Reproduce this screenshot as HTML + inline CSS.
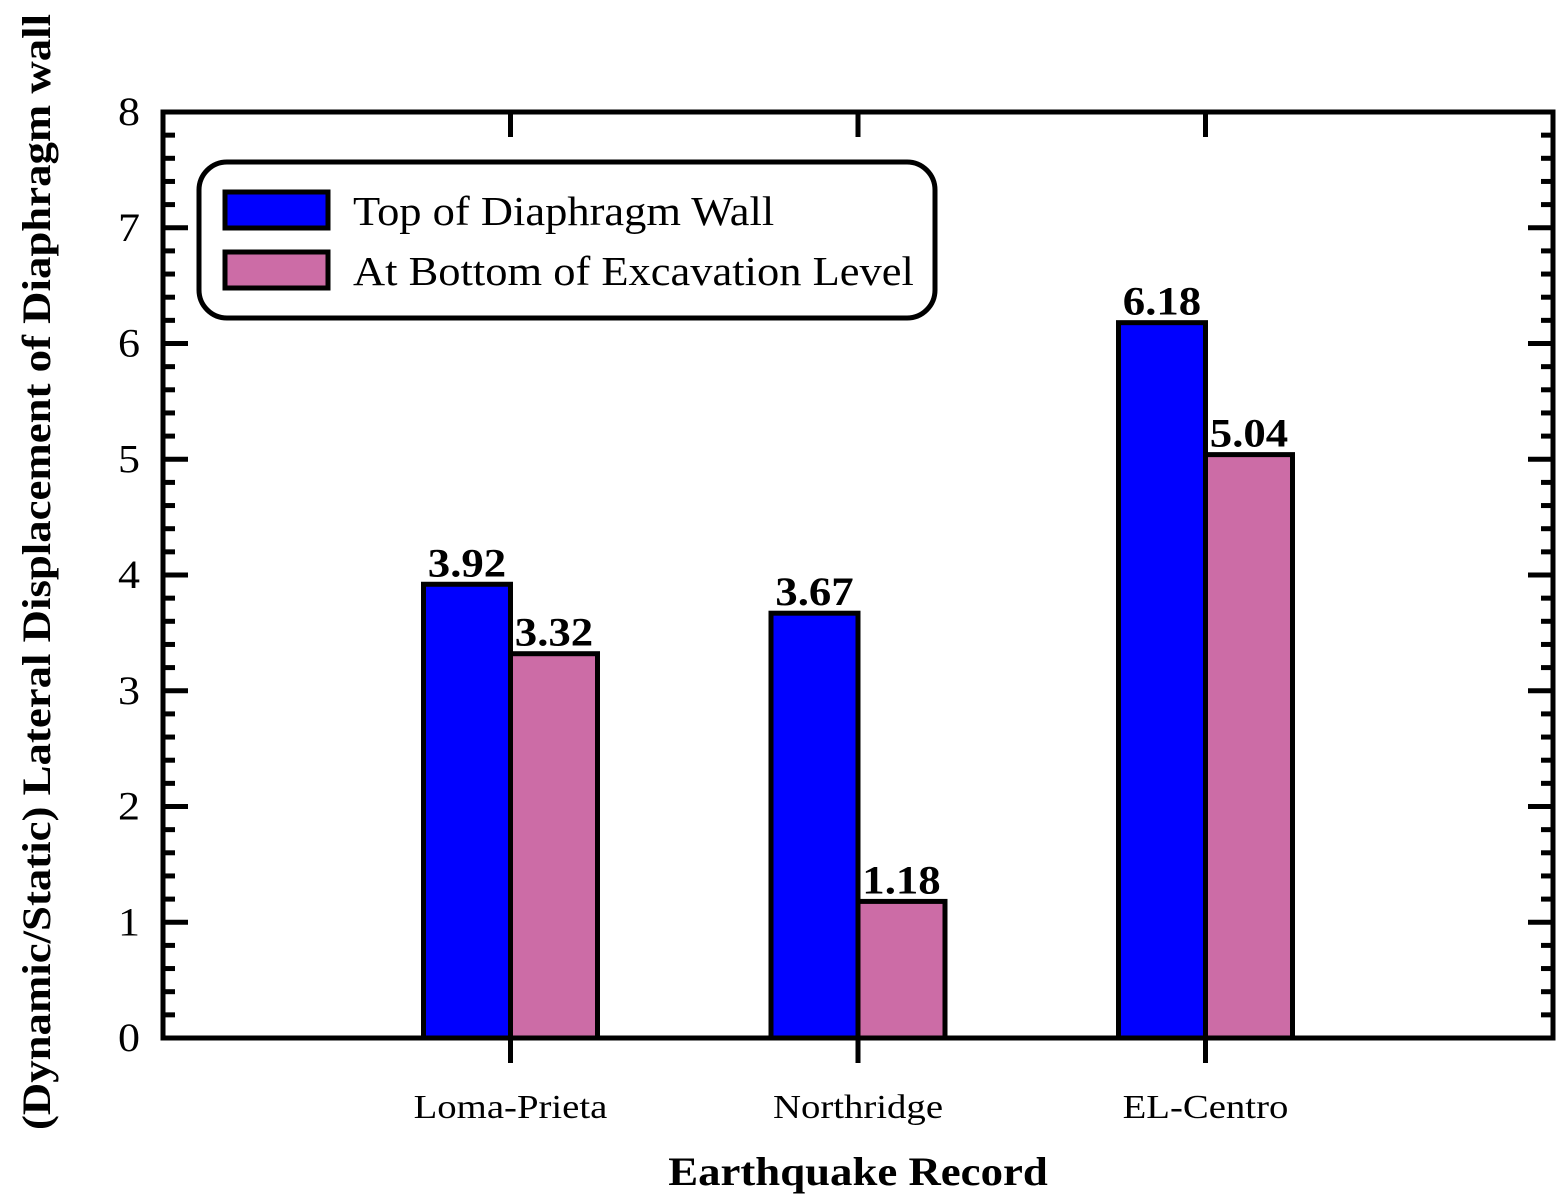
<!DOCTYPE html>
<html><head><meta charset="utf-8"><style>
body{margin:0;background:#fff}
svg{display:block;font-family:"Liberation Serif",serif}
</style></head><body>
<svg id="chart" width="1568" height="1201" viewBox="0 0 1568 1201"></svg>
<script>
const categories=["Loma-Prieta","Northridge","EL-Centro"];
const topValues=[3.92,3.67,6.18];
const bottomValues=[3.32,1.18,5.04];
const yTicks=[0,1,2,3,4,5,6,7,8];
const seriesNames=["Top of Diaphragm Wall","At Bottom of Excavation Level"];
const colors=["#0000ff","#cc6ca6"];

const L=163,R=1553,T=112,B=1038;
const y=v=>B-(v/8)*(B-T);
const x=i=>L+(i+1)*(R-L)/4;
const bw=87;
const svg=document.getElementById('chart');
const NS="http://www.w3.org/2000/svg";
function mk(tag,attrs,parent){const e=document.createElementNS(NS,tag);for(const k in attrs)e.setAttribute(k,attrs[k]);(parent||svg).appendChild(e);return e;}
function stretch(t,f){const w=t.getComputedTextLength();t.setAttribute('textLength',w*f);t.setAttribute('lengthAdjust','spacingAndGlyphs');}

for(let i=0;i<=40;i++){
  const v=i*0.2, yy=y(v), major=i%5===0, len=major?25:12;
  const t1=mk('line',{x1:L,x2:L+len,y1:yy,y2:yy,stroke:'#000','stroke-width':5});
  
  
  const t2=mk('line',{x1:R-len,x2:R,y1:yy,y2:yy,stroke:'#000','stroke-width':5});
  
  
}
yTicks.forEach(v=>{
  const t=mk('text',{x:140,y:y(v)+13,'text-anchor':'end','font-size':40});
  t.textContent=v;
  
  
  stretch(t,1.1);
});

categories.forEach((c,i)=>{
  const cx=x(i);
  [topValues[i],bottomValues[i]].forEach((v,s)=>{
    const bx=s===0?cx-bw:cx;
    const r=mk('rect',{x:bx,y:y(v),width:bw,height:B-y(v),fill:colors[s],stroke:'#000','stroke-width':5});
    
    
    const lb=mk('text',{x:bx+bw/2,y:y(v)-8,'text-anchor':'middle','font-size':40,'font-weight':'bold'});
    lb.textContent=v.toFixed(2);
    
    
    stretch(lb,1.12);
  });
  const tt=mk('line',{x1:cx,x2:cx,y1:T,y2:T+25,stroke:'#000','stroke-width':5});
  
  
  const tb=mk('line',{x1:cx,x2:cx,y1:B,y2:B+25,stroke:'#000','stroke-width':5});
  
  
  const cl=mk('text',{x:cx,y:1118,'text-anchor':'middle','font-size':34});
  cl.textContent=c;
  
  
  stretch(cl,1.14);
});

const fr=mk('rect',{x:L,y:T,width:R-L,height:B-T,fill:'none',stroke:'#000','stroke-width':5});



const lg=mk('g',{});


mk('rect',{x:199,y:162,width:736,height:156,rx:28,fill:'#fff',stroke:'#000','stroke-width':5},lg);
seriesNames.forEach((n,s)=>{
  const yy=192+s*60;
  const sw=mk('rect',{x:225,y:yy,width:103,height:36,fill:colors[s],stroke:'#000','stroke-width':5},lg);
  
  
  const t=mk('text',{x:353,y:yy+33,'font-size':41},lg);
  t.textContent=n;
  
  
  stretch(t,1.085);
});

const xt=mk('text',{x:858,y:1185,'text-anchor':'middle','font-size':40,'font-weight':'bold'});
xt.textContent='Earthquake Record';


stretch(xt,1.12);
const yt=mk('text',{x:0,y:0,'text-anchor':'middle','font-size':40,'font-weight':'bold',transform:'translate(50,572) rotate(-90)'});
yt.textContent='(Dynamic/Static) Lateral Displacement of Diaphragm wall';


stretch(yt,1.12);
</script>
</body></html>
